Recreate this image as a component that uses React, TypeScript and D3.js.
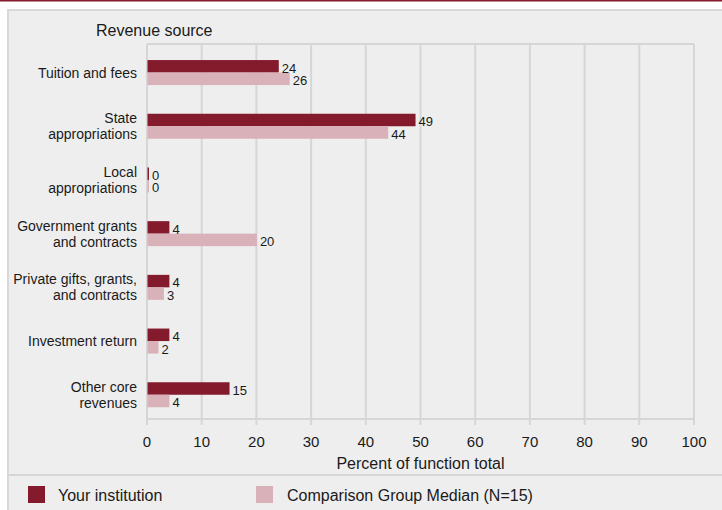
import React from "react";
import * as d3 from "d3";

const categories: string[][] = [
  ["Tuition and fees"],
  ["State", "appropriations"],
  ["Local", "appropriations"],
  ["Government grants", "and contracts"],
  ["Private gifts, grants,", "and contracts"],
  ["Investment return"],
  ["Other core", "revenues"],
];
const institutionValues = [24, 49, 0, 4, 4, 4, 15];
const comparisonValues = [26, 44, 0, 20, 3, 2, 4];
const xTicks = [0, 10, 20, 30, 40, 50, 60, 70, 80, 90, 100];
const seriesNames = ["Your institution", "Comparison Group Median (N=15)"];

const DARK = "#841b2d";
const LIGHT = "#d8b2b8";
const GRID = "#d6d6d6";
const TEXT = "#1a1a1a";
const FONT = "'Liberation Sans', Arial, Helvetica, sans-serif";

export default function App() {
  const W = 722;
  const H = 510;
  const keys = categories.map((c) => c.join(" "));
  const x = d3.scaleLinear().domain([0, 100]).range([147, 694]);
  const y = d3.scaleBand<string>().domain(keys).range([45.7, 421.6]).padding(0);
  const barH = 12.5;
  const plotTop = 44;
  const plotBottom = 419;

  return (
    <svg
      width={W}
      height={H}
      style={{ position: "absolute", left: 0, top: 0, fontFamily: FONT }}
    >
      <rect x={0} y={0} width={W} height={H} fill="#ffffff" />
      <rect x={0} y={0} width={W} height={1.5} fill={DARK} />
      <rect x={8} y={10} width={W} height={H} fill="#eeeeee" stroke="#d9d9d9" strokeWidth={2} />

      <text x={96} y={36} fontSize={16} fill={TEXT}>Revenue source</text>

      {/* grid */}
      {xTicks.map((t) => (
        <line key={"g" + t} x1={x(t)} x2={x(t)} y1={plotTop} y2={plotBottom + 6} stroke={GRID} strokeWidth={2} />
      ))}
      <line x1={x(0)} x2={x(100)} y1={plotTop} y2={plotTop} stroke={GRID} strokeWidth={2} />
      <line x1={x(0)} x2={x(100)} y1={plotBottom} y2={plotBottom} stroke={GRID} strokeWidth={2} />

      {/* bars */}
      {keys.map((k, i) => {
        const c = (y(k) as number) + y.bandwidth() / 2;
        const v1 = institutionValues[i];
        const v2 = comparisonValues[i];
        const w1 = Math.max(x(v1) - x(0), 1.5);
        const w2 = Math.max(x(v2) - x(0), 1.5);
        return (
          <g key={k}>
            <rect x={x(0) + 0.5} y={c - barH} width={w1} height={barH} fill={DARK} />
            <rect x={x(0) + 0.5} y={c} width={w2} height={barH} fill={LIGHT} />
            <text x={x(0) + w1 + 3.5} y={c} fontSize={13} fill={TEXT}>{v1}</text>
            <text x={x(0) + w2 + 3.5} y={c + 12.5} fontSize={13} fill={TEXT}>{v2}</text>
            {categories[i].length === 1 ? (
              <text x={137} y={c + 5} fontSize={14} textAnchor="end" fill={TEXT}>{categories[i][0]}</text>
            ) : (
              <text x={137} y={c - 3} fontSize={14} textAnchor="end" fill={TEXT}>
                <tspan x={137}>{categories[i][0]}</tspan>
                <tspan x={137} dy={16}>{categories[i][1]}</tspan>
              </text>
            )}
          </g>
        );
      })}

      {/* x tick labels */}
      {xTicks.map((t) => (
        <text key={"t" + t} x={x(t)} y={446.5} fontSize={15} textAnchor="middle" fill={TEXT}>{t}</text>
      ))}
      <text x={(x(0) + x(100)) / 2} y={468.5} fontSize={16} textAnchor="middle" fill={TEXT}>
        Percent of function total
      </text>

      <line x1={8} x2={W} y1={475} y2={475} stroke={GRID} strokeWidth={2} />

      {/* legend */}
      <rect x={28} y={486} width={17} height={17} fill={DARK} />
      <text x={58} y={501} fontSize={16} fill={TEXT}>{seriesNames[0]}</text>
      <rect x={256} y={486} width={17} height={17} fill={LIGHT} />
      <text x={287} y={501} fontSize={16} fill={TEXT}>{seriesNames[1]}</text>
    </svg>
  );
}
